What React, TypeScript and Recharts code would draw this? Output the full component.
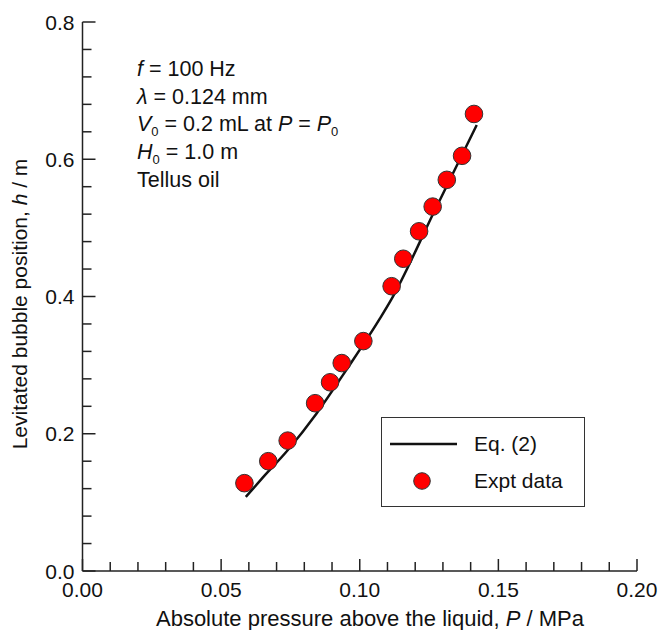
import React from "react";
import { ComposedChart, Line, Scatter, XAxis, YAxis } from "recharts";

// Experimental data: absolute pressure P (MPa) vs levitated bubble position h (m)
const exptPressure = [0.0584, 0.067, 0.074, 0.0839, 0.0893, 0.0935, 0.1013, 0.1115, 0.1157, 0.1214, 0.1263, 0.1314, 0.1369, 0.1412];
const exptHeight = [0.128, 0.16, 0.19, 0.2445, 0.275, 0.303, 0.335, 0.415, 0.455, 0.495, 0.531, 0.57, 0.605, 0.666];

// Eq. (2) curve
const eqPressure = [0.0589, 0.065, 0.074, 0.0845, 0.095, 0.1073, 0.1113, 0.127, 0.1422];
const eqHeight = [0.108, 0.136, 0.176, 0.23, 0.292, 0.368, 0.395, 0.525, 0.65];

const xTicks = [0, 0.01, 0.02, 0.03, 0.04, 0.05, 0.06, 0.07, 0.08, 0.09, 0.1, 0.11, 0.12, 0.13, 0.14, 0.15, 0.16, 0.17, 0.18, 0.19, 0.2];
const yTicks = [0, 0.04, 0.08, 0.12, 0.16, 0.2, 0.24, 0.28, 0.32, 0.36, 0.4, 0.44, 0.48, 0.52, 0.56, 0.6, 0.64, 0.68, 0.72, 0.76, 0.8];

const exptData = exptPressure.map((p, i) => ({ p, h: exptHeight[i] }));
const eqData = eqPressure.map((p, i) => ({ p, h: eqHeight[i] }));

const FONT = '"Liberation Sans", Arial, Helvetica, sans-serif';
const AXIS = "#222";

const isMultiple = (v: number, step: number) => Math.abs(v / step - Math.round(v / step)) < 1e-6;

const XTick = (props: any) => {
  const { x, y, payload } = props;
  const v = payload.value as number;
  const major = isMultiple(v, 0.05);
  return (
    <g>
      <line x1={x} x2={x} y1={y} y2={y - (major ? 12 : 9)} stroke={AXIS} strokeWidth={1.5} />
      {major && (
        <text x={x} y={y + 26} textAnchor="middle" fontSize={21} fontFamily={FONT} fill="#111">
          {v.toFixed(2)}
        </text>
      )}
    </g>
  );
};

const YTick = (props: any) => {
  const { x, y, payload } = props;
  const v = payload.value as number;
  const major = isMultiple(v, 0.2);
  return (
    <g>
      <line x1={x} x2={x + (major ? 13 : 9)} y1={y} y2={y} stroke={AXIS} strokeWidth={1.5} />
      {major && (
        <text x={x - 8} y={y + 7.5} textAnchor="end" fontSize={21} fontFamily={FONT} fill="#111">
          {v.toFixed(1)}
        </text>
      )}
    </g>
  );
};

const Dot = (props: any) => {
  const { cx, cy } = props;
  if (cx == null || cy == null) return null;
  return <circle cx={cx} cy={cy} r={8.8} fill="#ff0000" stroke="#333" strokeWidth={1} />;
};

const sub: React.CSSProperties = { fontSize: 13, verticalAlign: "-5px", lineHeight: 0 };

export default function App() {
  return (
    <div style={{ position: "absolute", left: 0, top: 0, width: 659, height: 630, background: "#fff", fontFamily: FONT }}>
      <ComposedChart width={659} height={630} margin={{ top: 22, right: 22, bottom: 58, left: 81.5 }}>
        <XAxis
          type="number"
          dataKey="p"
          domain={[0, 0.2]}
          ticks={xTicks}
          interval={0}
          tickSize={0}
          tickMargin={0}
          tickLine={false}
          tick={<XTick />}
          height={1}
          axisLine={{ stroke: AXIS, strokeWidth: 1.5 }}
          allowDataOverflow
        />
        <YAxis
          type="number"
          dataKey="h"
          domain={[0, 0.8]}
          ticks={yTicks}
          interval={0}
          tickSize={0}
          tickMargin={0}
          tickLine={false}
          tick={<YTick />}
          width={1}
          axisLine={{ stroke: AXIS, strokeWidth: 1.5 }}
          allowDataOverflow
        />
        <Line
          data={eqData}
          dataKey="h"
          type="monotone"
          stroke="#111"
          strokeWidth={2.5}
          dot={false}
          activeDot={false}
          isAnimationActive={false}
          name="Eq. (2)"
        />
        <Scatter data={exptData} dataKey="h" shape={<Dot />} isAnimationActive={false} name="Expt data" />
      </ComposedChart>

      {/* Legend */}
      <div
        style={{
          position: "absolute",
          left: 381,
          top: 417,
          width: 204,
          height: 90,
          boxSizing: "border-box",
          border: "1.5px solid #333",
          background: "#fff",
          fontSize: 21,
          color: "#111",
        }}
      >
        <svg width={200} height={87} style={{ position: "absolute", left: 0, top: 0 }}>
          <line x1={8} x2={75} y1={26} y2={26} stroke="#111" strokeWidth={2.5} />
          <circle cx={40} cy={63} r={8.3} fill="#ff0000" stroke="#333" strokeWidth={1} />
        </svg>
        <div style={{ position: "absolute", left: 92, top: 13, lineHeight: "26px", whiteSpace: "nowrap" }}>Eq. (2)</div>
        <div style={{ position: "absolute", left: 92, top: 50, lineHeight: "26px", whiteSpace: "nowrap" }}>Expt data</div>
      </div>

      <div style={{ position: "absolute", left: 137, top: 56, fontSize: 21.5, lineHeight: "27.7px", color: "#111", whiteSpace: "nowrap" }}>
        <div><i>f</i> = 100 Hz</div>
        <div><i>λ</i> = 0.124 mm</div>
        <div><i>V</i><span style={sub}>0</span> = 0.2 mL at <i>P</i> = <i>P</i><span style={sub}>0</span></div>
        <div><i>H</i><span style={sub}>0</span> = 1.0 m</div>
        <div>Tellus oil</div>
      </div>

      <div style={{ position: "absolute", left: 370, top: 619, transform: "translate(-50%, -50%)", fontSize: 22, color: "#111", whiteSpace: "nowrap" }}>
        Absolute pressure above the liquid, <i>P</i> / MPa
      </div>

      <div
        style={{
          position: "absolute",
          left: 20,
          top: 304,
          transform: "translate(-50%, -50%) rotate(-90deg)",
          fontSize: 21,
          color: "#111",
          whiteSpace: "nowrap",
        }}
      >
        Levitated bubble position, <i>h</i> / m
      </div>
    </div>
  );
}
